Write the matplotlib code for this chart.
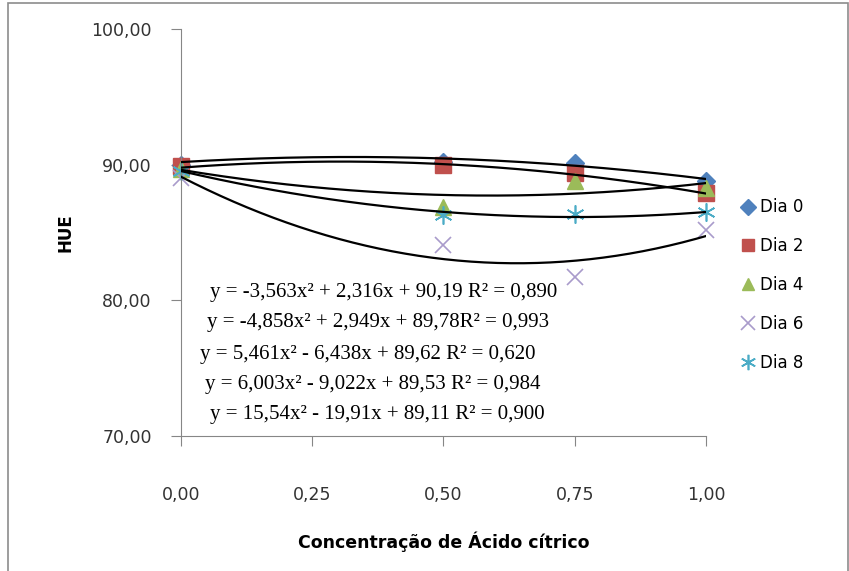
import numpy as np
import matplotlib.pyplot as plt
from matplotlib.patches import Rectangle

# Data
conc = [0.0, 0.5, 0.75, 1.0]
dia0 = [90.0, 90.2, 90.1, 88.8]
dia2 = [89.9, 90.0, 89.4, 87.9]
dia4 = [89.7, 86.9, 88.8, 88.3]
dia6 = [89.0, 84.1, 81.7, 85.2]
dia8 = [89.5, 86.3, 86.4, 86.5]

labels = ["Dia 0", "Dia 2", "Dia 4", "Dia 6", "Dia 8"]

# polynomial trendline coefficients (a, b, c) as printed on the chart
coef0 = [-3.563, 2.316, 90.19]
coef2 = [-4.858, 2.949, 89.78]
coef4 = [5.461, -6.438, 89.62]
coef6 = [15.54, -19.91, 89.11]
coef8 = [6.003, -9.022, 89.53]

equations = [
    "y = -3,563x² + 2,316x + 90,19 R² = 0,890",
    "y = -4,858x² + 2,949x + 89,78R² = 0,993",
    "y = 5,461x² - 6,438x + 89,62 R² = 0,620",
    "y = 6,003x² - 9,022x + 89,53 R² = 0,984",
    "y = 15,54x² - 19,91x + 89,11 R² = 0,900",
]

xticks = [0.0, 0.25, 0.5, 0.75, 1.0]
yticks = [70, 80, 90, 100]

fig = plt.figure(figsize=(8.49, 5.71), dpi=100)
ax = fig.add_axes([181 / 849, 1 - 436 / 571, 525 / 849, 407 / 571])

# outer chart frame
fig.patches.append(Rectangle((8 / 849, -0.05), 840 / 849, 1.05 - 3 / 571,
                             transform=fig.transFigure, fill=False,
                             edgecolor="#8c8c8c", linewidth=1.2))

series = [dia0, dia2, dia4, dia6, dia8]
coefs = [coef0, coef2, coef4, coef6, coef8]
styles = [
    dict(marker="D", color="#4F81BD", ms=9, mec="#4F81BD"),
    dict(marker="s", color="#C0504D", ms=11, mec="#C0504D"),
    dict(marker="^", color="#9BBB59", ms=11, mec="#9BBB59"),
    dict(marker="x", color="#A99BCB", ms=12, mew=1.2),
    dict(marker=(6, 2, 0), color="#4BACC6", ms=13, mew=1.2),
]

xs = np.linspace(0, 1, 200)
for c in coefs:
    ax.plot(xs, np.polyval(c, xs), color="black", lw=1.6, zorder=3)

for y, st, lab in zip(series, styles, labels):
    ax.plot(conc, y, linestyle="none", label=lab, zorder=2, clip_on=False, **st)

ax.set_xlim(0, 1)
ax.set_ylim(70, 100)
ax.set_xticks(xticks)
ax.set_yticks(yticks)
ax.set_xticklabels([f"{v:.2f}".replace(".", ",") for v in xticks])
ax.set_yticklabels([f"{v:.2f}".replace(".", ",") for v in yticks])

for s in ["top", "right"]:
    ax.spines[s].set_visible(False)
for s in ["left", "bottom"]:
    ax.spines[s].set_color("#868686")
ax.tick_params(axis="both", colors="#868686", labelcolor="#333333",
               labelsize=12.5, length=7)
ax.tick_params(axis="x", pad=29)
ax.tick_params(axis="y", pad=14)

ax.set_xlabel("Concentração de Ácido cítrico", fontsize=12.5, fontweight="bold",
              labelpad=20)
ax.set_ylabel("HUE", fontsize=12, fontweight="bold", labelpad=12)

eq_pos = [(210, 293), (207, 322), (200, 354), (205, 384), (210, 414)]
for txt, (px, py) in zip(equations, eq_pos):
    fig.text(px / 849, 1 - py / 571, txt, family="Liberation Serif",
             fontsize=15, va="center", ha="left")

fig.legend(loc="center left", bbox_to_anchor=(725 / 849, 1 - 285 / 571),
           frameon=False, fontsize=12, labelspacing=1.25, handletextpad=0.2,
           handlelength=1.0, markerscale=0.85)

fig.savefig("out.png", dpi=100)
